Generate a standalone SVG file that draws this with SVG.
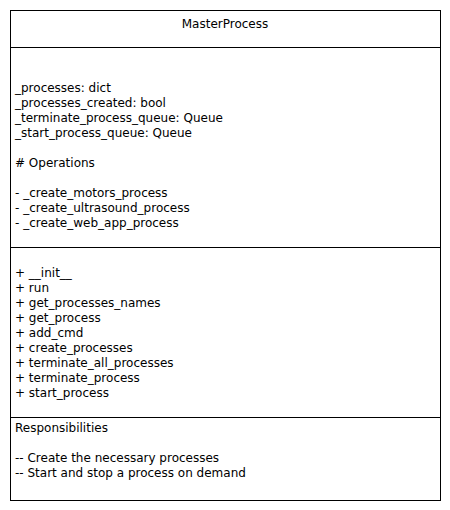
<svg xmlns="http://www.w3.org/2000/svg" width="450" height="510" viewBox="0 0 450 510">
<style>
text{font-family:"DejaVu Sans",sans-serif;font-size:12px;fill:#000}
.ln{stroke:#000;stroke-width:1;fill:none}
</style>
<rect width="450" height="510" fill="#fff"/>
<g id="MasterProcess">
<rect class="ln" x="10.5" y="10.5" width="430" height="490" fill="#fff"/>
<line class="ln" x1="10.5" y1="47.5" x2="440.5" y2="47.5"/>
<line class="ln" x1="10.5" y1="247.5" x2="440.5" y2="247.5"/>
<line class="ln" x1="10.5" y1="417.5" x2="440.5" y2="417.5"/>
<text x="225" y="28" text-anchor="middle">MasterProcess</text>
<text x="15" y="92">_processes: dict</text>
<text x="15" y="107">_processes_created: bool</text>
<text x="15" y="122">_terminate_process_queue: Queue</text>
<text x="15" y="137">_start_process_queue: Queue</text>
<text x="15" y="167"># Operations</text>
<text x="15" y="197">- _create_motors_process</text>
<text x="15" y="212">- _create_ultrasound_process</text>
<text x="15" y="227">- _create_web_app_process</text>
<text x="15" y="277">+ __init__</text>
<text x="15" y="292">+ run</text>
<text x="15" y="307">+ get_processes_names</text>
<text x="15" y="322">+ get_process</text>
<text x="15" y="337">+ add_cmd</text>
<text x="15" y="352">+ create_processes</text>
<text x="15" y="367">+ terminate_all_processes</text>
<text x="15" y="382">+ terminate_process</text>
<text x="15" y="397">+ start_process</text>
<text x="15" y="432">Responsibilities</text>
<text x="15" y="462">-- Create the necessary processes</text>
<text x="15" y="477">-- Start and stop a process on demand</text>
</g>
<g id="connectors"></g>
</svg>
